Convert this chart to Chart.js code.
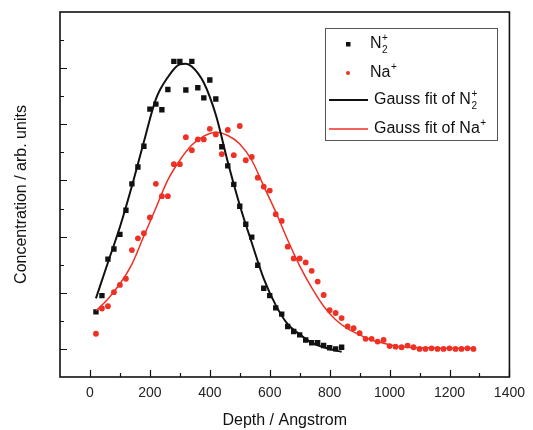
<!DOCTYPE html>
<html>
<head>
<meta charset="utf-8">
<script src="https://cdn.jsdelivr.net/npm/chart.js@4.4.0/dist/chart.umd.min.js"></script>
<style>
  html, body { margin: 0; padding: 0; background: #fff; }
  #wrap { width: 533px; height: 430px; }
</style>
</head>
<body>
<div id="wrap"><canvas id="chart" width="533" height="430"></canvas></div>
<script>
// measured points (depth in Angstrom, concentration in arb. units)
const depthN2 = [20, 40, 60, 80, 100, 120, 140, 160, 180, 200, 220, 240, 260, 280, 300, 320, 340, 360, 380, 400, 420,
  440, 460, 480, 500, 520, 540, 560, 580, 600, 620, 640, 660, 680, 700, 720, 740, 760, 780, 800, 820, 840]
const concN2 = [0.66, 0.95, 1.60, 1.78, 2.04, 2.47, 2.94, 3.24, 3.61, 4.27, 4.36, 4.26, 4.62, 5.12, 5.12, 4.61, 5.12, 4.65, 4.47, 4.79, 4.45,
  3.60, 3.26, 2.93, 2.54, 2.22, 1.99, 1.49, 1.08, 0.95, 0.73, 0.62, 0.40, 0.31, 0.25, 0.16, 0.11, 0.11, 0.06, 0.02, 0.00, 0.03]

const depthNa = [20, 40, 60, 80, 100, 120, 140, 160, 180, 200, 220, 240, 260, 280, 300, 320, 340, 360, 380, 400,
  420, 440, 460, 480, 500, 520, 540, 560, 580, 600, 620, 640, 660, 680, 700, 720, 740, 760, 780, 800,
  820, 840, 860, 880, 900, 920, 940, 960, 980, 1000, 1020, 1040, 1060, 1080, 1100, 1120, 1140, 1160, 1180, 1200,
  1220, 1240, 1260, 1280]
const concNa = [0.27, 0.72, 0.76, 1.01, 1.14, 1.25, 1.76, 1.97, 2.06, 2.34, 2.94, 2.72, 2.72, 3.29, 3.29, 3.77, 3.54, 3.73, 3.73, 3.92,
  3.82, 3.47, 3.90, 3.45, 3.97, 3.36, 3.42, 3.05, 2.89, 2.82, 2.40, 2.28, 1.82, 1.61, 1.61, 1.54, 1.39, 1.20, 0.96, 0.69,
  0.64, 0.55, 0.40, 0.37, 0.28, 0.18, 0.18, 0.13, 0.16, 0.05, 0.04, 0.03, 0.06, 0.03, 0.00, 0.00, 0.01, 0.00, 0.00, 0.01,
  0.00, 0.00, 0.01, 0.00]

// Gauss fit curves
const fitDepthN2 = [20, 60, 100, 140, 180, 220, 260, 300, 320, 340, 380, 420, 460, 500, 540, 580, 620, 660, 700, 740, 780, 820, 840]
const fitN2 = [0.90, 1.54, 2.17, 2.90, 3.69, 4.45, 4.84, 5.07, 5.08, 5.03, 4.74, 4.17, 3.33, 2.56, 1.89, 1.25, 0.78, 0.44, 0.26, 0.11, 0.03, -0.03, -0.05]

const fitDepthNa = [20, 60, 100, 140, 180, 220, 260, 300, 340, 380, 420, 460, 500, 540, 580, 620, 660, 700, 740, 780,
  820, 860, 900, 940, 980, 1020, 1060, 1100, 1140, 1180, 1220, 1280]
const fitNa = [0.68, 0.89, 1.16, 1.51, 2.01, 2.51, 3.01, 3.36, 3.63, 3.79, 3.86, 3.80, 3.65, 3.36, 2.90, 2.44, 1.94, 1.48, 1.09, 0.76,
  0.52, 0.36, 0.25, 0.16, 0.10, 0.05, 0.03, 0.02, 0.02, 0.01, 0.01, 0.01]

// axis ticks
const xTickValues = [0, 200, 400, 600, 800, 1000, 1200, 1400]
const xMinorTicks = [100, 300, 500, 700, 900, 1100, 1300]
const yMajorTicks = [0, 1, 2, 3, 4, 5]
const yMinorTicks = [0.5, 1.5, 2.5, 3.5, 4.5, 5.5]

const legendLabels = [
  { text: "N", sub: "2", sup: "+", mark: "square" },
  { text: "Na", sub: "", sup: "+", mark: "dot" },
  { text: "Gauss fit of N", sub: "2", sup: "+", mark: "blackline" },
  { text: "Gauss fit of Na", sub: "", sup: "+", mark: "redline" },
]

const BLACK = "#111111"
const RED = "#ee3124"
const FONT = '"Liberation Sans", Arial, Helvetica, sans-serif'

const toXY = (xs, ys) => xs.map((x, i) => ({ x: x, y: ys[i] }))

// frame, inward ticks and the boxed legend
const framePlugin = {
  id: "framePlugin",
  afterDraw(chart) {
    const { ctx, chartArea: a, scales } = chart
    const x = scales.x
    const y = scales.y
    ctx.save()
    ctx.strokeStyle = BLACK
    ctx.lineWidth = 1.2
    ctx.beginPath()
    xTickValues.forEach((v) => {
      const px = Math.round(x.getPixelForValue(v)) + 0.5
      ctx.moveTo(px, a.bottom)
      ctx.lineTo(px, a.bottom - 7)
    })
    xMinorTicks.forEach((v) => {
      const px = Math.round(x.getPixelForValue(v)) + 0.5
      ctx.moveTo(px, a.bottom)
      ctx.lineTo(px, a.bottom - 4)
    })
    yMajorTicks.forEach((v) => {
      const py = Math.round(y.getPixelForValue(v)) + 0.5
      ctx.moveTo(a.left, py)
      ctx.lineTo(a.left + 7, py)
    })
    yMinorTicks.forEach((v) => {
      const py = Math.round(y.getPixelForValue(v)) + 0.5
      ctx.moveTo(a.left, py)
      ctx.lineTo(a.left + 4, py)
    })
    ctx.stroke()

    ctx.lineWidth = 1.6
    ctx.strokeRect(a.left, a.top, a.right - a.left, a.bottom - a.top)

    // legend box
    const bx = 325, by = 28, bw = 172, bh = 112
    ctx.lineWidth = 1
    ctx.strokeStyle = "#555"
    ctx.strokeRect(bx + 0.5, by + 0.5, bw, bh)
    const rows = [44, 73, 100, 129]
    legendLabels.forEach((item, i) => {
      const ry = rows[i]
      let tx = 370
      if (item.mark === "square") {
        ctx.fillStyle = BLACK
        ctx.fillRect(346, ry - 2, 4.5, 4.5)
      } else if (item.mark === "dot") {
        ctx.fillStyle = RED
        ctx.beginPath()
        ctx.arc(348, ry, 2, 0, Math.PI * 2)
        ctx.fill()
      } else {
        ctx.strokeStyle = item.mark === "blackline" ? BLACK : RED
        ctx.lineWidth = item.mark === "blackline" ? 2 : 1.5
        ctx.beginPath()
        ctx.moveTo(329, ry)
        ctx.lineTo(368, ry)
        ctx.stroke()
        tx = 374
      }
      ctx.fillStyle = BLACK
      ctx.textBaseline = "middle"
      ctx.textAlign = "left"
      ctx.font = "16px " + FONT
      ctx.fillText(item.text, tx, ry)
      const w = ctx.measureText(item.text).width
      ctx.font = "10px " + FONT
      if (item.sub) ctx.fillText(item.sub, tx + w + 0.5, ry + 6)
      if (item.sup) ctx.fillText(item.sup, tx + w + 0.5, ry - 6)
    })
    ctx.restore()
  },
}

const ctx = document.getElementById("chart").getContext("2d")
const chart = new Chart(ctx, {
  type: "scatter",
  data: {
    datasets: [
      {
        label: "N\u2082\u207A",
        data: toXY(depthN2, concN2),
        pointStyle: "rect",
        pointRadius: 3.8,
        backgroundColor: BLACK,
        borderColor: BLACK,
        borderWidth: 0,
        order: 3,
      },
      {
        label: "Na\u207A",
        data: toXY(depthNa, concNa),
        pointStyle: "circle",
        pointRadius: 2.9,
        backgroundColor: RED,
        borderColor: RED,
        borderWidth: 0,
        order: 4,
      },
      {
        label: "Gauss fit of N\u2082\u207A",
        type: "line",
        data: toXY(fitDepthN2, fitN2),
        borderColor: BLACK,
        borderWidth: 2,
        pointRadius: 0,
        cubicInterpolationMode: "monotone",
        fill: false,
        order: 1,
      },
      {
        label: "Gauss fit of Na\u207A",
        type: "line",
        data: toXY(fitDepthNa, fitNa),
        borderColor: RED,
        borderWidth: 1.5,
        pointRadius: 0,
        cubicInterpolationMode: "monotone",
        fill: false,
        order: 2,
      },
    ],
  },
  options: {
    responsive: false,
    animation: false,
    layout: { padding: { top: 12, right: 21, left: 0, bottom: 0 } },
    plugins: {
      legend: { display: false },
      tooltip: { enabled: false },
    },
    scales: {
      x: {
        type: "linear",
        min: -100,
        max: 1400,
        afterBuildTicks: (scale) => {
          scale.ticks = xTickValues.map((v) => ({ value: v }))
        },
        afterFit: (scale) => {
          scale.height = 53
        },
        grid: { display: false, drawTicks: false },
        border: { display: false },
        ticks: {
          color: "#222",
          padding: 8,
          maxRotation: 0,
          font: { family: FONT, size: 14 },
          callback: (value) => String(value),
        },
        title: {
          display: true,
          text: "Depth / Angstrom",
          color: "#111",
          padding: { top: 0, bottom: 0 },
          font: { family: FONT, size: 16 },
        },
      },
      y: {
        min: -0.5,
        max: 6,
        afterFit: (scale) => {
          scale.width = 60
        },
        grid: { display: false, drawTicks: false },
        border: { display: false },
        ticks: { display: false },
        title: {
          display: true,
          text: "Concentration / arb. units",
          color: "#111",
          padding: { top: 12, bottom: 0 },
          font: { family: FONT, size: 16 },
        },
      },
    },
  },
  plugins: [framePlugin],
})
</script>
</body>
</html>
